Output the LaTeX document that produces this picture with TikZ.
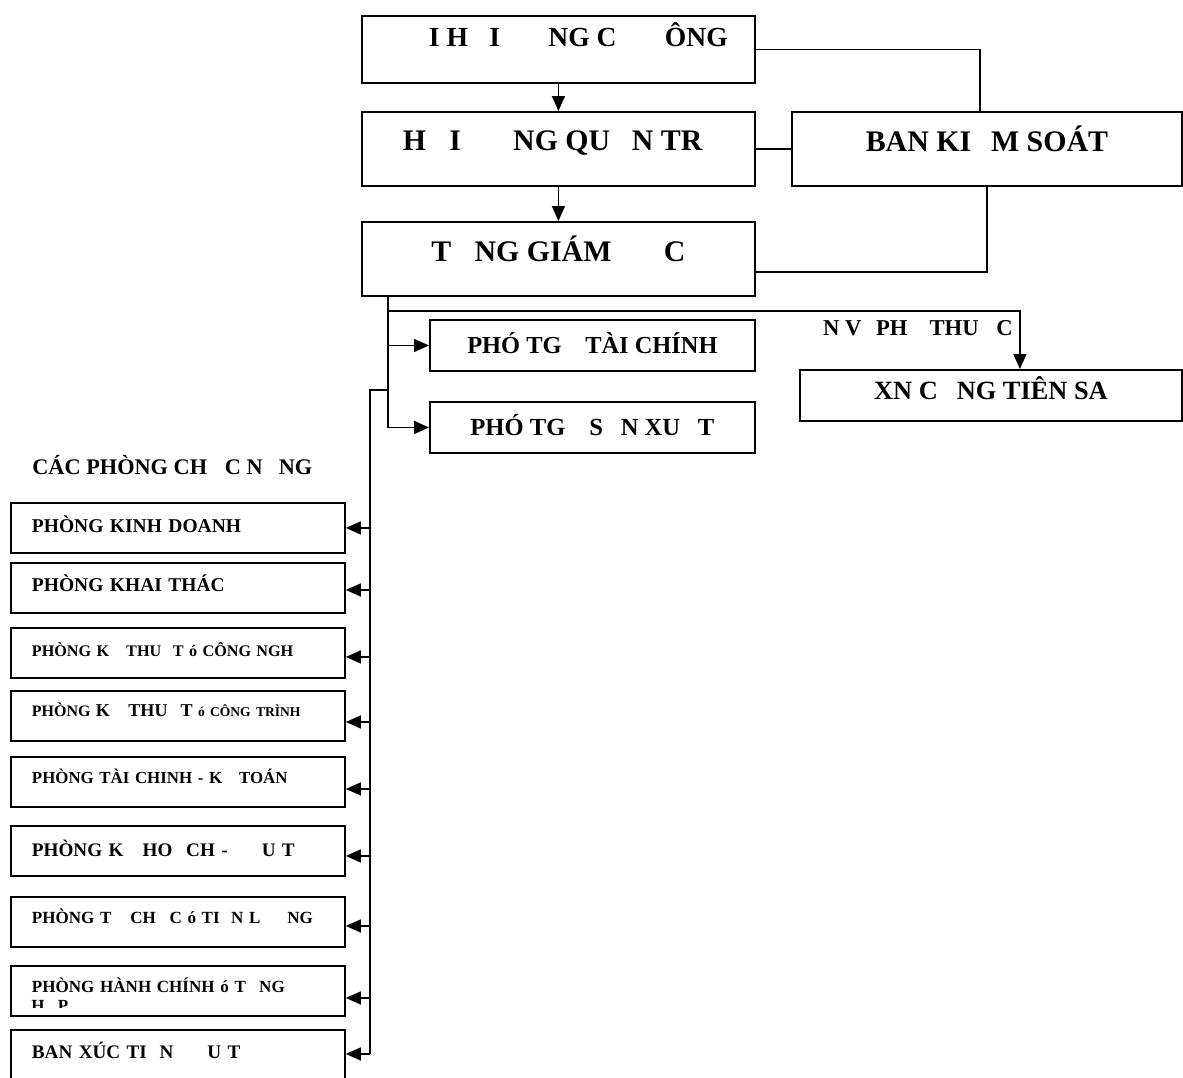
\documentclass[tikz,border=0pt]{standalone}
\usepackage{fontspec}
\setmainfont{Liberation Serif}
\usepackage{tikz}
\usetikzlibrary{arrows.meta, positioning, calc}
\newcommand{\fsz}[1]{\fontsize{#1pt}{1.15\dimexpr#1pt\relax}\selectfont\bfseries}
\tikzset{
  box/.style={rectangle, draw, anchor=north west, inner sep=0pt,
    align=center, line width=1.1pt},
  leftbox/.style={rectangle, draw, anchor=north west, inner xsep=0.42cm, inner ysep=0pt,
    text width=5.84cm, minimum height=1.0cm, align=left, line width=1.1pt},
  arrow/.style={-{Triangle[length=0.3cm, width=0.26cm]}, line width=0.9pt},
  line/.style={line width=0.9pt}
}

\begin{document}
\begin{tikzpicture}[x=0.02cm, y=-0.02cm]
  \useasboundingbox (0,0) rectangle (1183,1078);

  % Top level
  \node[box, minimum width=7.86cm, minimum height=1.34cm, text height=0.4cm, text depth=0.5cm, font=\fsz{15.7}] (dhdcd) at (361,15) {\hphantom{ĐẠ}I H\hphantom{Ộ}I \hphantom{ĐỒ}NG C\hphantom{Ổ} \hphantom{Đ}ÔNG};
  \node[box, minimum width=7.86cm, minimum height=1.48cm, text height=0.48cm, text depth=0.4cm, font=\fsz{17}] (hdqt) at (361,111) {H\hphantom{Ộ}I \hphantom{ĐỒ}NG QU\hphantom{Ả}N TR\hphantom{Ị}};
  \node[box, minimum width=7.8cm, minimum height=1.48cm, text height=0.48cm, text depth=0.36cm, font=\fsz{17}] (bks) at (791,111) {BAN KI\hphantom{Ể}M SOÁT};
  \node[box, minimum width=7.86cm, minimum height=1.48cm, text height=0.48cm, text depth=0.36cm, font=\fsz{17}] (tgd) at (361,221) {T\hphantom{Ổ}NG GIÁM \hphantom{ĐỐ}C};

  % Deputies and branch
  \node[box, minimum width=6.5cm, minimum height=1.02cm, text height=0.4cm, text depth=0.06cm, font=\fsz{13.9}] (ptgtc) at (429,319) {PHÓ TG\hphantom{Đ} TÀI CHÍNH};
  \node[box, minimum width=6.5cm, minimum height=1.02cm, text height=0.4cm, text depth=0.06cm, font=\fsz{14}] (ptgsx) at (429,401) {PHÓ TG\hphantom{Đ} S\hphantom{Ả}N XU\hphantom{Ấ}T};
  \node[box, minimum width=7.64cm, minimum height=1.02cm, text height=0.36cm, text depth=0.18cm, font=\fsz{15}] (xn) at (799,369) {XN C\hphantom{Ả}NG TIÊN SA};
  \node[font=\fsz{12.9}, anchor=base east, inner sep=0pt] (dvpt) at (1013,335) {\hphantom{ĐƠ}N V\hphantom{Ị} PH\hphantom{Ụ} THU\hphantom{Ộ}C};

  % Functional departments
  \node[font=\fsz{12.7}, anchor=base west, inner sep=0pt] (cacphong) at (32,474) {CÁC PHÒNG CH\hphantom{Ứ}C N\hphantom{Ă}NG};
  \node[leftbox, text height=0.3cm, text depth=0.1cm, font=\fsz{11.1}] (kd) at (10,502) {PHÒNG KINH DOANH};
  \node[leftbox, text height=0.28cm, text depth=0.12cm, font=\fsz{11.1}] (kt) at (10,562) {PHÒNG KHAI THÁC};
  \node[leftbox, text height=0.28cm, text depth=0.12cm, font=\fsz{9.2}] (ktcn) at (10,627) {PHÒNG K\hphantom{Ỹ} THU\hphantom{Ậ}T ó CÔNG NGH\hphantom{Ệ}};
  \node[leftbox, text height=0.24cm, text depth=0.2cm, font=\fsz{9.1}] (ktct) at (10,690) {PHÒNG {\fsz{10.3}K\hphantom{Ỹ} THU\hphantom{Ậ}T} {\fsz{7.7}ó CÔNG TRÌNH}};
  \node[leftbox, text height=0.24cm, text depth=0.16cm, font=\fsz{9.6}] (tckt) at (10,756) {PHÒNG TÀI CHINH - K\hphantom{Ế} TOÁN};
  \node[leftbox, text height=0.32cm, text depth=0.08cm, font=\fsz{10.9}] (khdt) at (10,825) {PHÒNG K\hphantom{Ế} HO\hphantom{Ạ}CH - \hphantom{ĐẦ}U T\hphantom{Ư}};
  \node[leftbox, text height=0.24cm, text depth=0.16cm, font=\fsz{9.7}] (tctl) at (10,896) {PHÒNG T\hphantom{Ổ} CH\hphantom{Ứ}C ó TI\hphantom{Ề}N L\hphantom{ƯƠ}NG};
  \node[leftbox, text height=0.24cm, text depth=0.16cm, font=\fsz{9.7}] (hcth) at (10,965) {PHÒNG HÀNH CHÍNH ó T\hphantom{Ổ}NG};
  \begin{scope}
    \clip (12,995) rectangle (342,1007);
    \node[font=\fsz{9.7}, anchor=base west, inner sep=0pt] (hcthtail) at (31,1011) {H\hphantom{Ợ}P};
  \end{scope}
  \node[leftbox, text height=0.28cm, text depth=0.12cm, font=\fsz{10.9}] (bxtdt) at (10,1029) {BAN XÚC TI\hphantom{Ế}N \hphantom{ĐẦ}U T\hphantom{Ư}};

  % Connections
  \draw[arrow] (dhdcd.south) -- (hdqt.north);
  \draw[arrow] (hdqt.south) -- (tgd.north);
  \draw[line] (dhdcd.east) -| ([xshift=-0.14cm]bks.north);
  \draw[line] (hdqt.east) -- (bks.west);
  \draw[line] (bks.south) |- ([yshift=-0.26cm]tgd.east);

  \coordinate (stem) at ([xshift=0.54cm]tgd.south west);
  \coordinate (rail) at (370,390);
  \draw[arrow] (stem) |- (ptgsx.west);
  \draw[arrow] (stem |- ptgtc.west) -- (ptgtc.west);
  \draw[arrow] (stem |- 0,311) -| ([xshift=0.58cm]xn.north);
  \draw[line] (stem |- rail) -- (rail) -- ([yshift=0.02cm]rail |- bxtdt.east);
  \foreach \n/\dy in {kd/0, kt/2, ktcn/4, ktct/6, tckt/7, khdt/5, tctl/4, hcth/7, bxtdt/-1}
    \draw[arrow] ([yshift=-\dy*0.02cm]\n.east -| rail) -- ([yshift=-\dy*0.02cm]\n.east);
\end{tikzpicture}
\end{document}
